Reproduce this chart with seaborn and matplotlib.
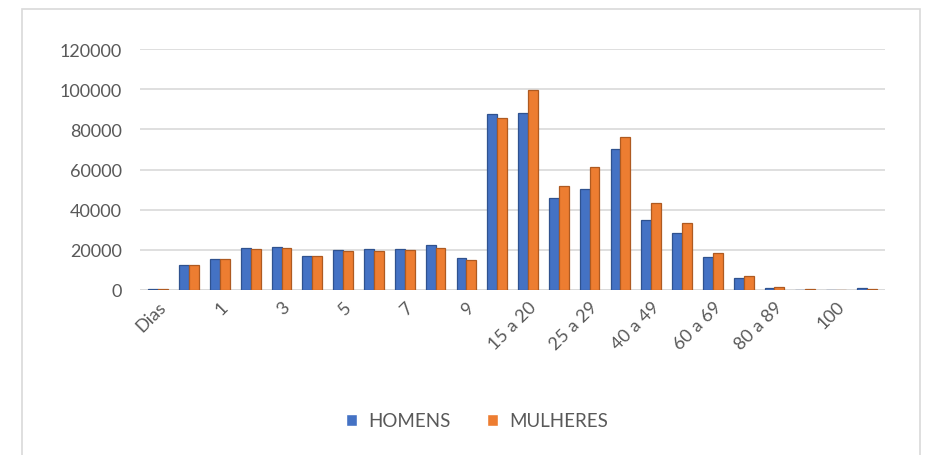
import seaborn as sns
import matplotlib.pyplot as plt
import matplotlib.patches as mpatches
import pandas as pd

# age groups (only every other label is shown on the axis, like the original)
categorias = ["Dias", "Meses", "1", "2", "3", "4", "5", "6", "7", "8", "9",
              "10 a 14", "15 a 20", "21 a 24", "25 a 29", "30 a 39", "40 a 49",
              "50 a 59", "60 a 69", "70 a 79", "80 a 89", "90 a 99", "100", "Ignorado"]
homens = [600, 12500, 15300, 21000, 21600, 17100, 19900, 20200, 20200, 22400, 15700,
          87500, 88300, 45600, 50500, 70400, 34800, 28500, 16200, 5800, 1200, 200, 100, 800]
mulheres = [500, 12500, 15300, 20500, 21000, 17100, 19400, 19600, 19900, 21000, 15100,
            85700, 99500, 51900, 61300, 76200, 43400, 33600, 18200, 7100, 1700, 300, 100, 500]
series = ["HOMENS", "MULHERES"]
cores = ["#4472C4", "#ED7D31"]

df = pd.DataFrame({
    "faixa": categorias * 2,
    "sexo": [series[0]] * len(categorias) + [series[1]] * len(categorias),
    "valor": homens + mulheres,
})

sns.set_style("white")
plt.rcParams["font.family"] = ["Lato", "DejaVu Sans"]
texto = "#595959"

fig = plt.figure(figsize=(9.32, 4.56), dpi=100)
ax = fig.add_axes([0.150, 0.362, 0.800, 0.528])

sns.barplot(data=df, x="faixa", y="valor", hue="sexo", palette=cores,
            saturation=1, width=0.64, gap=0, ax=ax, legend=True)

# darker edge to hint at the 3D look
for cont, cor in zip(ax.containers, ["#2F528F", "#AE5A21"]):
    for b in cont:
        b.set_edgecolor(cor)
        b.set_linewidth(0.9)

ax.set_ylim(0, 120000)
ax.set_xlim(-0.6, len(categorias) - 0.4)
ax.set_yticks(range(0, 120001, 20000))
ax.yaxis.grid(True, color="#D9D9D9", linewidth=1.2)
ax.set_axisbelow(True)
sns.despine(ax=ax, left=True, bottom=True)
ax.axhline(0, color="#D9D9D9", linewidth=1.2, zorder=0)

ax.set_xticks(range(len(categorias)))
ax.set_xticklabels([c if i % 2 == 0 else "" for i, c in enumerate(categorias)],
                   rotation=45, ha="right", rotation_mode="anchor")
ax.tick_params(axis="both", length=0, labelsize=13, colors=texto)
ax.tick_params(axis="y", pad=13)
ax.tick_params(axis="x", pad=6)
ax.set_xlabel("")
ax.set_ylabel("")

ax.get_legend().remove()
h, l = ax.get_legend_handles_labels()
leg = fig.legend(h, l, loc="center", bbox_to_anchor=(477 / 932, 1 - 422 / 456), ncol=2,
                 frameon=False, fontsize=13.5, handlelength=0.6, handleheight=0.6,
                 columnspacing=1.9, handletextpad=0.6)
for t in leg.get_texts():
    t.set_color(texto)

# light border around the chart area
fig.patches.append(mpatches.Rectangle((22 / 932, -0.05), (920 - 22) / 932, 1 - 10 / 456 + 0.05,
                                      transform=fig.transFigure, fill=False,
                                      edgecolor="#D9D9D9", linewidth=1.2))

fig.savefig("out.png", dpi=100)
